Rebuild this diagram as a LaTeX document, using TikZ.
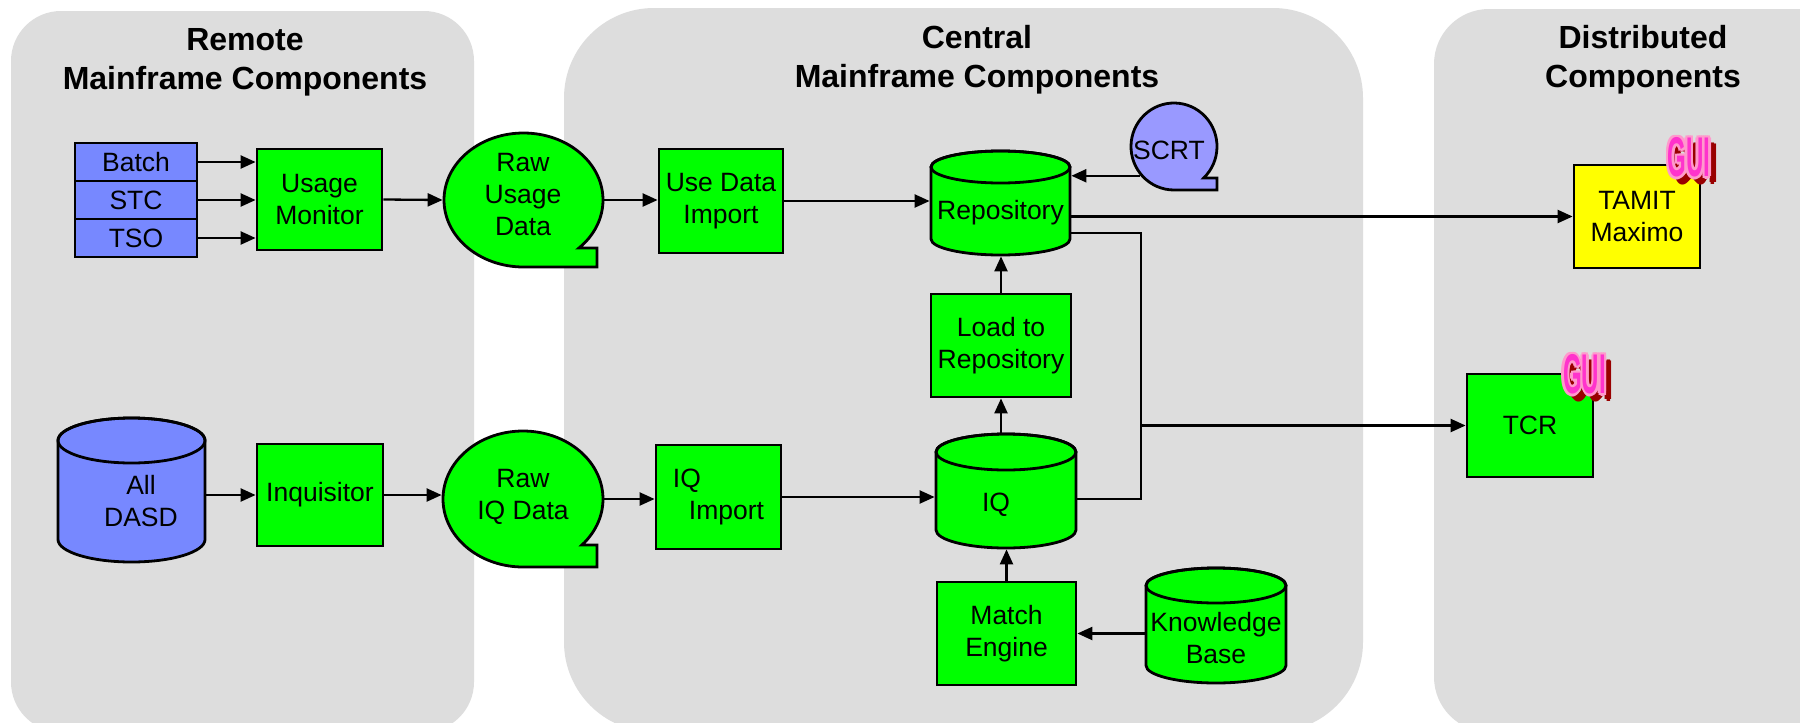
\documentclass[tikz,border=0pt]{standalone}
\usepackage{fontspec}
\setmainfont{Liberation Sans}
\usetikzlibrary{arrows.meta,shapes.geometric}

\definecolor{panelgray}{RGB}{221,221,221}
\definecolor{boxgreen}{RGB}{0,255,0}
\definecolor{diskblue}{RGB}{119,136,255}
\definecolor{scrtblue}{RGB}{153,153,255}
\definecolor{guiyellow}{RGB}{255,255,0}
\definecolor{guipink}{RGB}{255,51,204}
\definecolor{guihalo}{RGB}{255,153,204}
\definecolor{guishadow}{RGB}{153,0,0}

\tikzset{
  panel/.style={fill=panelgray},
  paneltitle/.style={font=\fontsize{32}{39}\selectfont\bfseries, align=center, inner sep=0pt},
  shapeline/.style={draw=black, line width=2.8pt, line join=miter},
  procbox/.style={shapeline, fill=boxgreen, inner sep=0pt, outer sep=1.4pt, align=center,
                  font=\fontsize{26.5}{32}\selectfont},
  lbl/.style={inner sep=0pt, align=center, font=\fontsize{26.5}{32}\selectfont},
  hull/.style={draw=none, inner sep=0pt, outer sep=1.4pt},
  flow/.style={line width=2.3pt, -{Triangle[length=15pt, width=13pt]}},
  wire/.style={line width=2.3pt},
  guifont/.style={inner sep=0pt, font=\fontsize{28}{28}\selectfont\bfseries},
}

% disk drum: name, fill, left x, right x, top y, bottom y, cap half-height
\newcommand\drum[7]{%
  \filldraw[shapeline, fill=#2]
    (#3,{#5+#7}) -- (#3,{#6-#7})
    arc[start angle=180, end angle=0, x radius={(#4-#3)/2}, y radius=#7]
    -- (#4,{#5+#7})
    arc[start angle=0, end angle=-180, x radius={(#4-#3)/2}, y radius=#7]
    -- cycle;
  \draw[shapeline] ({(#3+#4)/2},{#5+#7}) ellipse[x radius={(#4-#3)/2}, y radius=#7];
  \node[hull, minimum width={#4-#3}, minimum height={#6-#5}] (#1) at ({(#3+#4)/2},{(#5+#6)/2}) {};
}

% sequential-storage bubble: name, fill, cx, cy, rx, ry, tail right x, tail top y
\newcommand\tape[8]{%
  \filldraw[shapeline, fill=#2]
    (#3,{#4+#6}) -- (#7,{#4+#6}) -- (#7,#8)
    -- ({#3+#5*cos(asin((#8-#4)/#6))},#8)
    arc[start angle={asin((#8-#4)/#6)}, end angle=-270, x radius=#5, y radius=#6]
    -- cycle;
  \node[hull, ellipse, minimum width={2*#5}, minimum height={2*#6}] (#1) at (#3,#4) {};
}

% "GUI" badge with halo and drop shadow
\newcommand\guimark[3]{%
  \foreach \a in {0,90,180,270}
    \node[guifont, text=guishadow, xshift={6+1.5*cos(\a)}, yshift={-6+1.5*sin(\a)}]
      (#1-s\a) at (#2,#3) {\scalebox{0.86}[2]{GUI}};
  \foreach \a in {0,45,...,315}
    \node[guifont, text=guihalo, xshift={2.6*cos(\a)}, yshift={2.6*sin(\a)}]
      (#1-h\a) at (#2,#3) {\scalebox{0.86}[2]{GUI}};
  \node[guifont, text=guipink] (#1) at (#2,#3) {\scalebox{0.86}[2]{GUI}};
}

\begin{document}
\begin{tikzpicture}[x=1pt, y=-1pt]
\useasboundingbox (0,0) rectangle (1800,723);
\clip (0,0) rectangle (1800,723);
\fill[white] (0,0) rectangle (1800,723);

% panels
\fill[panel, rounded corners=50pt] (11,11) rectangle (474,732);
\fill[panel, rounded corners=90pt] (564,8) rectangle (1363,732);
\fill[panel, rounded corners=55pt] (1434,9) rectangle (1860,732);

\node[paneltitle] (t-remote) at (245,62) {Remote\\Mainframe Components};
\node[paneltitle] (t-central) at (977,60) {Central\\Mainframe Components};
\node[paneltitle] (t-dist) at (1643,60) {Distributed\\Components};

% remote mainframe
\node[procbox, fill=diskblue, minimum width=122, minimum height=38] (batch) at (136,162) {Batch};
\node[procbox, fill=diskblue, minimum width=122, minimum height=38] (stc) at (136,200) {STC};
\node[procbox, fill=diskblue, minimum width=122, minimum height=38] (tso) at (136,238) {TSO};
\node[procbox, minimum width=125, minimum height=101] (um) at (319.5,199.5) {Usage\\Monitor};

\drum{dasd}{diskblue}{58}{205}{418}{562}{22.5}
\node[lbl] (dasd-t) at (141,501) {All\\DASD};
\node[procbox, minimum width=126, minimum height=102] (inq) at (320,495) {Inquisitor};

% central mainframe
\tape{rawusage}{boxgreen}{523.5}{200}{79.5}{67}{597}{248}
\node[lbl] (rawusage-t) at (523,195) {Raw\\Usage\\Data};
\tape{rawiq}{boxgreen}{523}{499}{80}{68}{597}{545}
\node[lbl] (rawiq-t) at (523,496.5) {Raw\\IQ Data};

\node[procbox, minimum width=124, minimum height=104] (udi) at (721,201) {Use Data\\Import};
\node[procbox, minimum width=125, minimum height=104, align=left] (iqi) at (718.5,497) {IQ\\\hspace*{16pt}Import};

\drum{repo}{boxgreen}{931}{1070}{151}{255}{16}
\node[lbl] (repo-t) at (1000.5,213) {Repository};
\tape{scrt}{scrtblue}{1174}{146.5}{43}{43.5}{1217}{178}
\node[lbl] (scrt-t) at (1169,150) {SCRT};
\node[procbox, minimum width=140, minimum height=103] (load) at (1001,345.5) {Load to\\Repository};
\drum{iq}{boxgreen}{936}{1076}{434}{548}{18}
\node[lbl] (iq-t) at (996,505) {IQ};
\node[procbox, minimum width=139, minimum height=103] (match) at (1006.5,633.5) {Match\\Engine};
\drum{kb}{boxgreen}{1146}{1286}{568}{683}{17.5}
\node[lbl] (kb-t) at (1216,638) {Knowledge\\Base};

% distributed
\node[procbox, fill=guiyellow, minimum width=126, minimum height=103] (tamit) at (1637,216.5) {TAMIT\\Maximo};
\node[procbox, minimum width=126, minimum height=103] (tcr) at (1530,425.5) {TCR};
\guimark{gui1}{1689}{157.5}
\guimark{gui2}{1584.5}{374.5}

% connectors
\coordinate (jn) at (1141,425.5);
\draw[flow] (batch.east) -- (batch.east -| um.west);
\draw[flow] (stc.east) -- (stc.east -| um.west);
\draw[flow] (tso.east) -- (tso.east -| um.west);
\draw[flow] (um.east) -- (rawusage.west);
\draw[flow] (rawusage.east) -- (rawusage.east -| udi.west);
\draw[flow] (udi.east) -- (udi.east -| repo.west);
\draw[flow] (scrt.221) -- (scrt.221 -| repo.east);
\draw[flow] (tamit.west -| repo.east) -- (tamit.west);
\draw[flow] ([yshift=-30pt]repo.east) -| (jn) -- (tcr.west);
\draw[wire] ([yshift=-8pt]iq.east) -| (jn);

\draw[flow] (inq.west -| dasd.east) -- (inq.west);
\draw[flow] (inq.east) -- (inq.east -| rawiq.west);
\draw[flow] (rawiq.east) -- (rawiq.east -| iqi.west);
\draw[flow] (iqi.east) -- (iqi.east -| iq.west);
\draw[flow] (load.south |- iq.north) -- (load.south);
\draw[flow] (load.north) -- (load.north |- repo.south);
\draw[flow] (match.north) -- (match.north |- iq.south);
\draw[flow] (match.east -| kb.west) -- (match.east);
\end{tikzpicture}
\end{document}
